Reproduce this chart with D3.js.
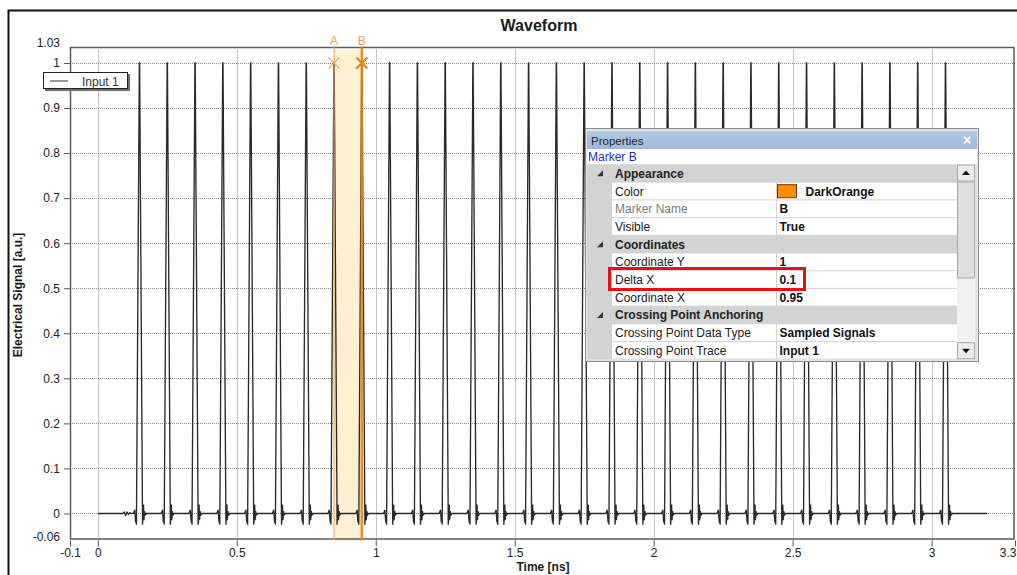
<!DOCTYPE html>
<html>
<head>
<meta charset="utf-8">
<script src="https://cdn.jsdelivr.net/npm/d3@7/dist/d3.min.js"></script>
<style>
  html, body { margin: 0; padding: 0; background: #fff; }
  svg { display: block; font-family: "Liberation Sans", Arial, sans-serif; }
</style>
</head>
<body>
<svg id="chart" width="1017" height="575"></svg>
<script>
// ---- axis ticks ----
const timeTicks = [-0.1, 0, 0.5, 1, 1.5, 2, 2.5, 3, 3.3];
const signalTicks = [-0.06, 0, 0.1, 0.2, 0.3, 0.4, 0.5, 0.6, 0.7, 0.8, 0.9, 1, 1.03];
const timeGrid = [0, 0.5, 1, 1.5, 2, 2.5, 3];
const signalGrid = [0, 0.1, 0.2, 0.3, 0.4, 0.5, 0.6, 0.7, 0.8, 0.9, 1];

// ---- waveform "Input 1" (time in ns, signal in a.u.) ----
const pulseCenters = [0.15, 0.25, 0.35, 0.45, 0.55, 0.65, 0.75, 0.85, 0.95, 1.05,
                      1.15, 1.25, 1.35, 1.45, 1.55, 1.65, 1.75, 1.85, 1.95, 2.05,
                      2.15, 2.25, 2.35, 2.45, 2.55, 2.65, 2.75, 2.85, 2.95, 3.05];
// one pulse with its ringing, relative to the pulse centre
const pulseOffsets = [-0.022, -0.017, -0.014, -0.012, -0.011, -0.0005, 0.0005, 0.011, 0.013, 0.0145, 0.016, 0.018, 0.021, 0.025];
const pulseLevels  = [0, 0.008, -0.02, -0.01, -0.025, 1, 1, -0.025, 0, 0.02, -0.015, 0.005, -0.003, 0];
const leadTimes  = [0, 0.09, 0.095, 0.1, 0.105, 0.11, 0.115, 0.12];
const leadLevels = [0, 0, 0.003, -0.004, 0.003, -0.002, 0.002, 0];
const tailTimes  = [3.2];
const tailLevels = [0];

// ---- markers ----
const markerNames = ["A", "B"];
const markerTimes = [0.85, 0.95];
const markerLevel = 1;

// ---- properties panel ----
const propNames  = ["Appearance", "Color", "Marker Name", "Visible", "Coordinates", "Coordinate Y", "Delta X", "Coordinate X",
                    "Crossing Point Anchoring", "Crossing Point Data Type", "Crossing Point Trace"];
const propValues = [null, "DarkOrange", "B", "True", null, "1", "0.1", "0.95", null, "Sampled Signals", "Input 1"];
const propIsCategory = [true, false, false, false, true, false, false, false, true, false, false];

// ---- build the series ----
const samples = [];
leadTimes.forEach((t, i) => samples.push({ t, v: leadLevels[i] }));
pulseCenters.forEach(c => pulseOffsets.forEach((o, i) => samples.push({ t: c + o, v: pulseLevels[i] })));
tailTimes.forEach((t, i) => samples.push({ t, v: tailLevels[i] }));

const svg = d3.select("#chart");
const W = 1017, H = 575;
const plot = { left: 70, right: 1015, top: 49.5, bottom: 540.5 };

const x = d3.scaleLinear().domain([-0.1, 3.3]).range([plot.left, plot.right]);
const y = d3.scaleLinear().domain([-0.06, 1.03]).range([plot.bottom, plot.top]);

// outer frame of the figure
svg.append("path").attr("d", `M8.5,${H} V10.5 H${W}`)
  .attr("fill", "none").attr("stroke", "#111").attr("stroke-width", 2);

// title
svg.append("text").attr("x", 539).attr("y", 31).attr("text-anchor", "middle")
  .attr("font-size", 16).attr("font-weight", "bold").attr("fill", "#1a1a1a").text("Waveform");

svg.append("defs").append("clipPath").attr("id", "plotClip")
  .append("rect").attr("x", plot.left).attr("y", plot.top)
  .attr("width", plot.right - plot.left).attr("height", plot.bottom - plot.top);

// grid
const grid = svg.append("g").attr("stroke", "#8c8c8c").attr("stroke-dasharray", "1 1").attr("stroke-width", 1);
grid.selectAll("line.gx").data(timeGrid).join("line")
  .attr("x1", d => Math.round(x(d)) + 0.5).attr("x2", d => Math.round(x(d)) + 0.5)
  .attr("y1", plot.top).attr("y2", plot.bottom);
grid.selectAll("line.gy").data(signalGrid).join("line")
  .attr("y1", d => Math.round(y(d)) + 0.5).attr("y2", d => Math.round(y(d)) + 0.5)
  .attr("x1", plot.left).attr("x2", plot.right);

// marker band
svg.append("rect")
  .attr("x", x(markerTimes[0])).attr("y", plot.top)
  .attr("width", x(markerTimes[1]) - x(markerTimes[0])).attr("height", plot.bottom - plot.top)
  .attr("fill", "rgb(255,240,212)");

// waveform
const line = d3.line().x(d => x(d.t)).y(d => y(d.v));
svg.append("path").datum(samples)
  .attr("clip-path", "url(#plotClip)")
  .attr("d", line).attr("fill", "none")
  .attr("stroke", "#2a2a2a").attr("stroke-width", 1.35).attr("stroke-linejoin", "miter");

// axes
const fmt = d => String(d);
const yAxis = svg.append("g").attr("transform", `translate(${plot.left},0)`)
  .call(d3.axisLeft(y).tickValues(signalTicks).tickFormat(fmt).tickSize(6).tickPadding(4));
const xAxis = svg.append("g").attr("transform", `translate(0,${plot.bottom})`)
  .call(d3.axisBottom(x).tickValues(timeTicks).tickFormat(fmt).tickSize(6).tickPadding(2));
[yAxis, xAxis].forEach(a => {
  a.select(".domain").remove();
  a.selectAll(".tick line").attr("stroke", "#555");
  a.selectAll(".tick text").attr("font-size", 12).attr("fill", "#222")
    .attr("font-family", "'Liberation Sans', Arial, sans-serif");
});
yAxis.selectAll(".tick").filter(d => d === 1.03 || d === -0.06).select("line").remove();
yAxis.selectAll(".tick").filter(d => d === 1.03).select("text").attr("dy", "-0.22em");
yAxis.selectAll(".tick").filter(d => d === -0.06).select("text").attr("dy", "0.02em");
// last time label sits at the right edge of the figure
xAxis.selectAll(".tick").filter(d => d === 3.3).select("text").attr("text-anchor", "end").attr("dx", "1px");

// plot frame
svg.append("rect").attr("x", plot.left + 0.5).attr("y", plot.top - 2)
  .attr("width", plot.right - plot.left - 1.5).attr("height", plot.bottom - plot.top + 0.5)
  .attr("fill", "none").attr("stroke", "#5c5c5c").attr("stroke-width", 1.5);

// axis titles
svg.append("text").attr("x", 543).attr("y", 571).attr("text-anchor", "middle")
  .attr("font-size", 12).attr("font-weight", "bold").attr("fill", "#1a1a1a").text("Time [ns]");
svg.append("text").attr("transform", `translate(22,${(plot.top + plot.bottom) / 2}) rotate(-90)`)
  .attr("text-anchor", "middle").attr("font-size", 12).attr("font-weight", "bold").attr("fill", "#1a1a1a")
  .text("Electrical Signal [a.u.]");

// markers
const markerStyle = [{ color: "#f3a65a", width: 1.2 }, { color: "#e8841a", width: 2.6 }];
markerTimes.forEach((t, i) => {
  const mx = x(t), my = y(markerLevel), st = markerStyle[i];
  const g = svg.append("g").attr("stroke", st.color).attr("fill", "none");
  g.append("line").attr("x1", mx).attr("x2", mx).attr("y1", plot.top - 3).attr("y2", plot.bottom)
    .attr("stroke-width", st.width).attr("stroke-opacity", 0.9);
  g.append("path").attr("d", `M${mx - 5.5},${my - 5.5} L${mx + 5.5},${my + 5.5} M${mx - 5.5},${my + 5.5} L${mx + 5.5},${my - 5.5}`)
    .attr("stroke-width", i === 0 ? 1.1 : 2.4);
  svg.append("text").attr("x", mx).attr("y", 44.5).attr("text-anchor", "middle")
    .attr("font-size", 12).attr("fill", "#f0a050").text(markerNames[i]);
});

// legend
const lg = svg.append("g").attr("transform", "translate(43,72)");
lg.append("rect").attr("x", 2).attr("y", 2).attr("width", 85).attr("height", 17).attr("fill", "#6e6e6e");
lg.append("rect").attr("x", 0.5).attr("y", 0.5).attr("width", 84).attr("height", 16)
  .attr("fill", "#fff").attr("stroke", "#222").attr("stroke-width", 1);
lg.append("line").attr("x1", 7).attr("x2", 25).attr("y1", 9).attr("y2", 9).attr("stroke", "#333");
lg.append("text").attr("x", 39).attr("y", 13.5).attr("font-size", 12).attr("fill", "#333").text("Input 1");

// ---- properties panel ----
const P = { x: 585, y: 128, w: 393, h: 233 };
const pg = svg.append("g");
pg.append("rect").attr("x", P.x + 0.5).attr("y", P.y + 0.5).attr("width", P.w).attr("height", P.h)
  .attr("fill", "#e4e4e4").attr("stroke", "#8d8d8d");
// title bar
const tb = d3.select("defs").append("linearGradient").attr("id", "titleGrad").attr("x1", 0).attr("x2", 0).attr("y1", 0).attr("y2", 1);
tb.append("stop").attr("offset", 0).attr("stop-color", "#b3c8e2");
tb.append("stop").attr("offset", 1).attr("stop-color", "#9fb9da");
pg.append("rect").attr("x", P.x + 2).attr("y", P.y + 3).attr("width", P.w - 3).attr("height", 18).attr("fill", "url(#titleGrad)");
pg.append("text").attr("x", P.x + 6).attr("y", P.y + 16.5).attr("font-size", 11.5).attr("fill", "#1b2333").text("Properties");
pg.append("text").attr("x", P.x + P.w - 11).attr("y", P.y + 17).attr("text-anchor", "middle")
  .attr("font-size", 14).attr("font-weight", "bold").attr("fill", "#fff").text("×");
// selected object row
pg.append("rect").attr("x", P.x + 2).attr("y", P.y + 21).attr("width", P.w - 3).attr("height", 15).attr("fill", "#fff");
pg.append("text").attr("x", P.x + 3).attr("y", P.y + 33).attr("font-size", 12).attr("fill", "#1f2fc0").text("Marker B");

// property grid
const gridLeft = 587, gutter = 612, divider = 776.5, gridRight = 957, rowTop = 164.5, rowH = 17.7;
pg.append("rect").attr("x", gridLeft).attr("y", rowTop).attr("width", gridRight - gridLeft)
  .attr("height", rowH * propNames.length).attr("fill", "#d3d3d3");
propNames.forEach((name, i) => {
  const ry = rowTop + i * rowH, cy = ry + rowH / 2;
  if (propIsCategory[i]) {
    pg.append("path").attr("d", `M${gridLeft + 16},${cy + 3} L${gridLeft + 10},${cy + 3} L${gridLeft + 16},${cy - 3} Z`)
      .attr("fill", "#333");
    pg.append("text").attr("x", gutter + 3).attr("y", cy + 4.5).attr("font-size", 12).attr("font-weight", "bold")
      .attr("fill", "#222").text(name);
  } else {
    pg.append("rect").attr("x", gutter).attr("y", ry + 0.5).attr("width", gridRight - gutter).attr("height", rowH - 1)
      .attr("fill", "#fff");
    pg.append("line").attr("x1", divider).attr("x2", divider).attr("y1", ry).attr("y2", ry + rowH).attr("stroke", "#d3d3d3");
    pg.append("text").attr("x", gutter + 3).attr("y", cy + 4.5).attr("font-size", 12)
      .attr("fill", name === "Marker Name" ? "#7a7a7a" : "#222").text(name);
    let vx = divider + 3;
    if (name === "Color") {
      pg.append("rect").attr("x", divider + 1).attr("y", ry + 2.5).attr("width", 19).attr("height", 13)
        .attr("fill", "#ff8c00").attr("stroke", "#6b3a00").attr("stroke-width", 1);
      vx = divider + 29;
    }
    pg.append("text").attr("x", vx).attr("y", cy + 4.5).attr("font-size", 12).attr("font-weight", "bold")
      .attr("fill", "#111").text(propValues[i]);
  }
});

// scrollbar
const sbx = 957, sbw = 18, sbTop = rowTop, sbBottom = rowTop + rowH * propNames.length;
pg.append("rect").attr("x", sbx).attr("y", sbTop).attr("width", sbw).attr("height", sbBottom - sbTop).attr("fill", "#f1f1f1");
pg.append("rect").attr("x", sbx + 0.5).attr("y", sbTop + 17.5).attr("width", sbw - 1).attr("height", 96)
  .attr("fill", "#dedede").attr("stroke", "#a8a8a8");
[[sbTop, "up"], [sbBottom - 17, "down"]].forEach(([by, dir]) => {
  pg.append("rect").attr("x", sbx + 0.5).attr("y", by + 0.5).attr("width", sbw - 1).attr("height", 16)
    .attr("fill", "#ebebeb").attr("stroke", "#a8a8a8");
  const cx = sbx + sbw / 2, cy = by + 8.5;
  pg.append("path").attr("d", dir === "up"
      ? `M${cx - 4},${cy + 2} L${cx + 4},${cy + 2} L${cx},${cy - 2.5} Z`
      : `M${cx - 4},${cy - 2} L${cx + 4},${cy - 2} L${cx},${cy + 2.5} Z`)
    .attr("fill", "#111");
});

// highlight around Delta X
pg.append("rect").attr("x", 609.5).attr("y", 268.5).attr("width", 195).attr("height", 21)
  .attr("fill", "none").attr("stroke", "#e3140e").attr("stroke-width", 3);
</script>
</body>
</html>
